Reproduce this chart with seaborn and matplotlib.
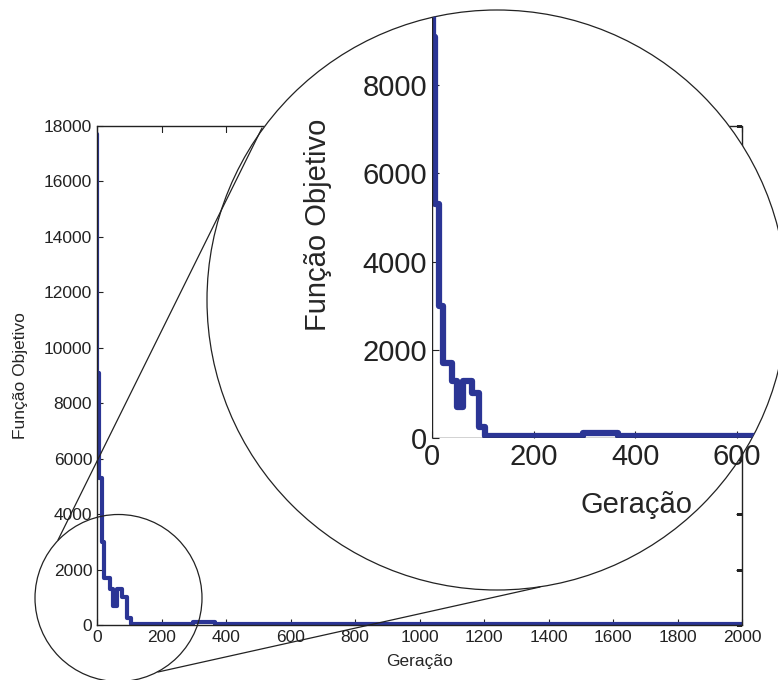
import numpy as np
import seaborn as sns
import matplotlib.pyplot as plt
from matplotlib.patches import Circle
from matplotlib.path import Path

# dados (curva em degraus)
geracao = [0, 1, 5, 14, 22, 39, 49, 62, 78, 93, 104, 297, 366, 730, 2000]
funcao_obj = [17700, 9100, 5300, 3000, 1700, 1300, 700, 1300, 1020, 250, 50, 110, 50, 20, 20]

x_ticks = [0, 200, 400, 600, 800, 1000, 1200, 1400, 1600, 1800, 2000]
y_ticks = [0, 2000, 4000, 6000, 8000, 10000, 12000, 14000, 16000, 18000]
x_ticks_zoom = [0, 200, 400, 600]
y_ticks_zoom = [0, 2000, 4000, 6000, 8000]

cor = '#2b3595'
preto = '#222222'

sns.set_style('ticks')
plt.rcParams['font.family'] = ['Liberation Sans', 'DejaVu Sans']

fig = plt.figure(figsize=(7.78, 6.80), dpi=100)

# Gráfico principal
ax = fig.add_axes([97/778, 55/680, 645/778, 499/680])
sns.lineplot(x=geracao, y=funcao_obj, ax=ax, color=cor, linewidth=3,
             drawstyle='steps-post', estimator=None)
ax.set_xlim(0, 2000)
ax.set_ylim(0, 18000)
ax.set_xticks(x_ticks)
ax.set_yticks(y_ticks)
ax.tick_params(direction='in', length=4, width=0.8, labelsize=12.5, top=True,
               right=True, colors=preto, labelcolor=preto)
ax.spines['top'].set_visible(False)
ax.spines['right'].set_visible(False)
for s in ['left', 'bottom']:
    ax.spines[s].set_linewidth(1.0)
    ax.spines[s].set_color(preto)
ax.set_xlabel('Geração', fontsize=12.5)
ax.set_ylabel('Função Objetivo', fontsize=12.5)
ax.xaxis.set_label_coords(0.5, -0.074)
ax.yaxis.set_label_coords(-0.119, 0.5)
ax.xaxis.label.set_va('center')
ax.yaxis.label.set_va('center')

# camada por cima (coordenadas em pixels) para a lupa
cam = fig.add_axes([0, 0, 1, 1])
cam.set_zorder(1)
cam.set_xlim(0, 778)
cam.set_ylim(680, 0)
cam.axis('off')
cam.patch.set_alpha(0)

cx, cy, r = 497, 300, 290

# área fora do círculo grande (retângulo com furo) para recortar a moldura
t = np.linspace(2 * np.pi, 0, 361)
furo = np.column_stack([cx + r * np.cos(t), cy + r * np.sin(t)])
ret = np.array([[0, 0], [778, 0], [778, 680], [0, 680], [0, 0]])
fora = Path.make_compound_path(Path(ret, closed=True), Path(furo, closed=True))

moldura, = cam.plot([0, 1, 1], [1, 1, 0], transform=ax.transAxes, color=preto,
                    linewidth=1.0, clip_on=True, zorder=1)
moldura.set_clip_path(fora, cam.transData)
for tk in ax.xaxis.get_major_ticks() + ax.yaxis.get_major_ticks():
    tk.tick2line.set_clip_path(fora, cam.transData)

grande = Circle((cx, cy), r, facecolor='white', edgecolor=preto,
                linewidth=0.9, zorder=3)
pequeno = Circle((118.5, 598), 83.5, facecolor='none', edgecolor=preto,
                 linewidth=0.9, zorder=3)
cam.add_patch(grande)
cam.add_patch(pequeno)
cam.plot([58, 262], [540, 128], color=preto, linewidth=0.9, zorder=4)
cam.plot([158, 540], [672, 587], color=preto, linewidth=0.9, zorder=4)

# recorte circular para o gráfico ampliado
recorte = Circle((cx, cy), r, transform=cam.transData)

# Gráfico ampliado
axz = fig.add_axes([432/778, 242/680, 330/778, 441/680])
axz.set_zorder(2)
axz.patch.set_alpha(0)
sns.lineplot(x=geracao, y=funcao_obj, ax=axz, color=cor, linewidth=4.5,
             drawstyle='steps-post', estimator=None)
axz.set_xlim(0, 650)
axz.set_ylim(0, 10000)
axz.set_xticks(x_ticks_zoom)
axz.set_yticks(y_ticks_zoom)
axz.tick_params(direction='in', length=5, width=0.8, labelsize=21, colors=preto,
                labelcolor=preto)
axz.spines['top'].set_visible(False)
axz.spines['right'].set_visible(False)
for s in ['left', 'bottom']:
    axz.spines[s].set_linewidth(1.0)
    axz.spines[s].set_color(preto)
    axz.spines[s].set_clip_path(recorte)
for ln in axz.lines:
    ln.set_clip_path(recorte)
axz.set_xlabel('Geração', fontsize=21)
axz.set_ylabel('Função Objetivo', fontsize=21)
axz.xaxis.set_label_coords(0.62, -0.152)
axz.yaxis.set_label_coords(-0.345, 0.483)
axz.xaxis.label.set_va('center')
axz.yaxis.label.set_va('center')

fig.savefig('out.png', dpi=100)
